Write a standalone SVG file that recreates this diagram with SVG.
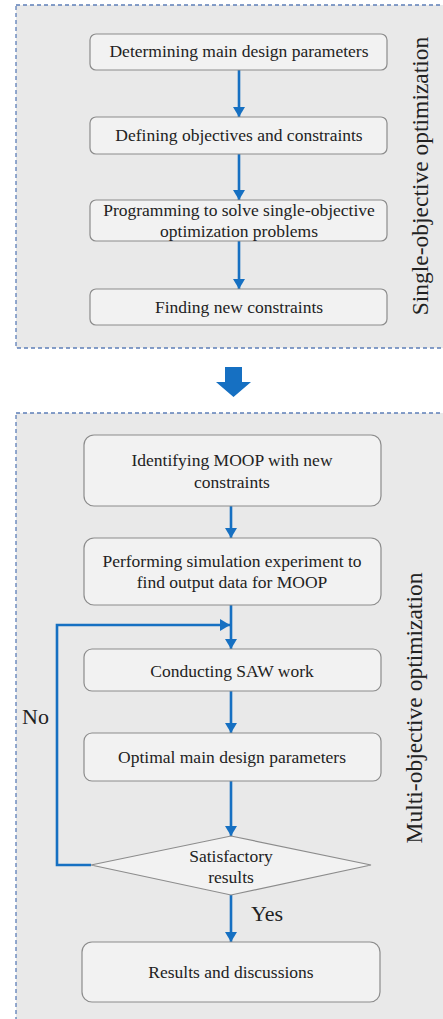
<svg xmlns="http://www.w3.org/2000/svg" width="443" height="1019" viewBox="0 0 443 1019">
<style>
.panel{fill:#e9e9e9;stroke:#5d7fb8;stroke-width:1.3;stroke-dasharray:4 3}
.box{fill:#f2f2f2;stroke:#8c8c8c;stroke-width:1.2}
text{font-family:'Liberation Serif','DejaVu Serif',serif;fill:#222}
.t{font-size:17.5px;text-anchor:middle}
.lbl{font-size:22px}
.side{font-size:23.5px;text-anchor:middle}
.edge{stroke:#1670c2;stroke-width:2.6;fill:none}
</style>
<defs>
<marker id="ah" markerUnits="userSpaceOnUse" markerWidth="12" markerHeight="12" refX="10" refY="6" orient="auto">
<path d="M0,0 L10,6 L0,12 z" fill="#1670c2"/>
</marker>
</defs>
<rect width="443" height="1019" fill="#ffffff"/>
<g id="panel-single">
<rect class="panel" x="16" y="5" width="440" height="343"/>
<text class="side" font-family="Liberation Serif, serif" transform="translate(428,176) rotate(-90)">Single-objective optimization</text>
</g>
<g id="panel-multi">
<rect class="panel" x="16" y="413" width="440" height="620"/>
<text class="side" font-family="Liberation Serif, serif" transform="translate(422,708) rotate(-90)">Multi-objective optimization</text>
</g>
<g id="big-arrow">
<polygon points="225,367 242,367 242,382 251,382 233.5,397 216,382 225,382" fill="#1670c2"/>
</g>
<g id="connectors">
<line class="edge" x1="239" y1="70" x2="239" y2="117" marker-end="url(#ah)"/>
<line class="edge" x1="239" y1="154" x2="239" y2="200" marker-end="url(#ah)"/>
<line class="edge" x1="239" y1="241" x2="239" y2="289" marker-end="url(#ah)"/>
<line class="edge" x1="231" y1="506" x2="231" y2="538" marker-end="url(#ah)"/>
<line class="edge" x1="231" y1="605" x2="231" y2="649" marker-end="url(#ah)"/>
<line class="edge" x1="231" y1="691" x2="231" y2="733" marker-end="url(#ah)"/>
<line class="edge" x1="231" y1="781" x2="231" y2="836" marker-end="url(#ah)"/>
<line class="edge" x1="231" y1="895" x2="231" y2="942" marker-end="url(#ah)"/>
<path class="edge" d="M91,865 L57,865 L57,625 L230,625" stroke-width="3" marker-end="url(#ah)"/>
<text class="lbl" x="22" y="724">No</text>
<text class="lbl" x="251" y="921">Yes</text>
</g>
<g id="n1">
<rect class="box" x="90" y="34" width="297" height="36" rx="6"/>
<text class="t" x="239" y="57">Determining main design parameters</text>
</g>
<g id="n2">
<rect class="box" x="90" y="117" width="297" height="37" rx="6"/>
<text class="t" x="239" y="141">Defining objectives and constraints</text>
</g>
<g id="n3">
<rect class="box" x="90" y="200" width="297" height="41" rx="6"/>
<text class="t" x="239" y="216">Programming to solve single-objective</text>
<text class="t" x="239" y="237">optimization problems</text>
</g>
<g id="n4">
<rect class="box" x="90" y="289" width="297" height="36" rx="6"/>
<text class="t" x="239" y="313">Finding new constraints</text>
</g>
<g id="n5">
<rect class="box" x="84" y="435" width="297" height="71" rx="10"/>
<text class="t" x="232" y="466">Identifying MOOP with new</text>
<text class="t" x="232" y="488">constraints</text>
</g>
<g id="n6">
<rect class="box" x="84" y="538" width="297" height="67" rx="10"/>
<text class="t" x="232" y="567">Performing simulation experiment to</text>
<text class="t" x="232" y="588">find output data for MOOP</text>
</g>
<g id="n7">
<rect class="box" x="84" y="649" width="297" height="42" rx="8"/>
<text class="t" x="232" y="677">Conducting SAW work</text>
</g>
<g id="n8">
<rect class="box" x="84" y="733" width="297" height="48" rx="8"/>
<text class="t" x="232" y="763">Optimal main design parameters</text>
</g>
<g id="n9">
<polygon class="box" points="91,865 231,836 371,865 231,895" fill="#f6f6f6"/>
<text class="t" x="231" y="862">Satisfactory</text>
<text class="t" x="231" y="883">results</text>
</g>
<g id="n10">
<rect class="box" x="82" y="942" width="298" height="60" rx="10"/>
<text class="t" x="231" y="978">Results and discussions</text>
</g>
</svg>
